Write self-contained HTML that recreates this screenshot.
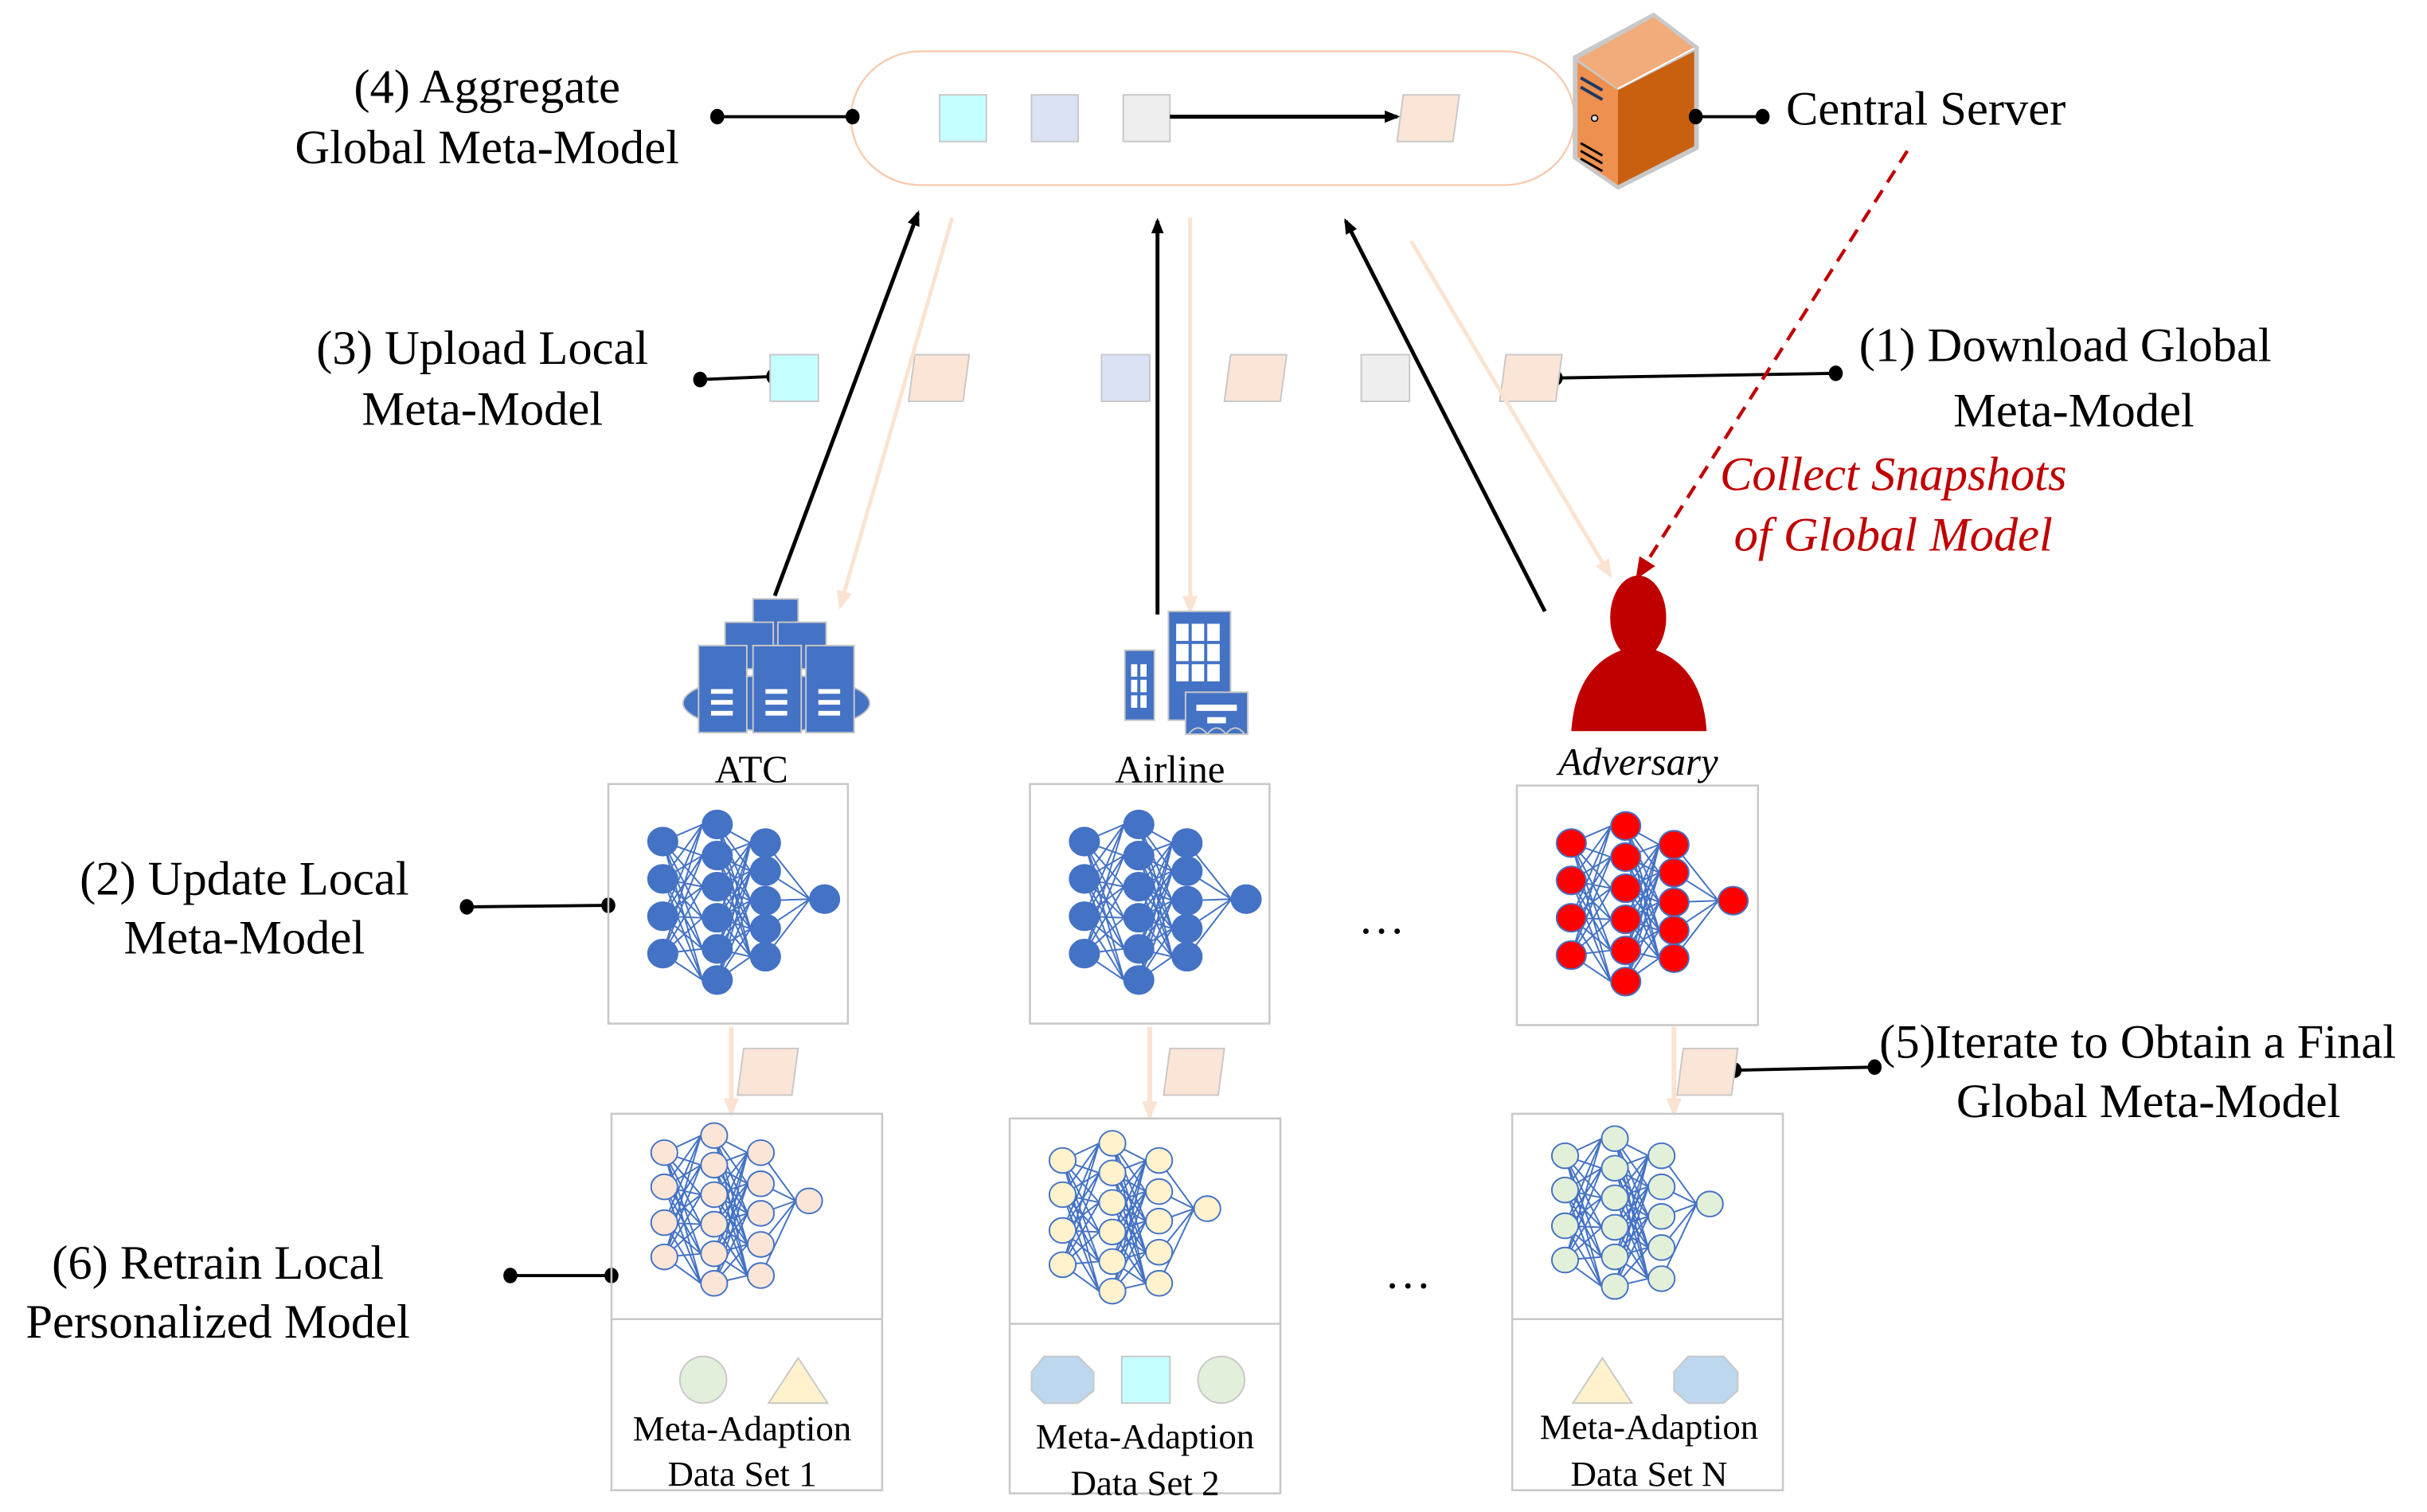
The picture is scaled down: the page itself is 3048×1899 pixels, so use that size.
<!DOCTYPE html>
<html><head><meta charset="utf-8"><style>
html,body{margin:0;padding:0;background:#fff}
svg{display:block}
</style></head><body>
<svg id="s" width="3048" height="1899" viewBox="0 0 1560 972" xmlns="http://www.w3.org/2000/svg" style="font-family:'Liberation Serif',serif">
<defs>
<marker id="ab" markerWidth="10" markerHeight="10" refX="8" refY="5" orient="auto" markerUnits="userSpaceOnUse" viewBox="0 0 10 10"><path d="M0,1 L10,5 L0,9 z" fill="#000"/></marker>
<marker id="ap" markerWidth="12" markerHeight="12" refX="10" refY="6" orient="auto" markerUnits="userSpaceOnUse" viewBox="0 0 12 12"><path d="M0,1 L12,6 L0,11 z" fill="#fbe3d2"/></marker>
<marker id="ar" markerWidth="14" markerHeight="14" refX="11" refY="7" orient="auto" markerUnits="userSpaceOnUse" viewBox="0 0 14 14"><path d="M0,1 L14,7 L0,13 z" fill="#c00000"/></marker>
</defs>
<g id="g">
<rect x="547" y="33" width="465" height="86" rx="45" fill="#fff" stroke="#f8cbad" stroke-width="1.2"/>
<rect x="604" y="61" width="30" height="30" fill="#c6ffff" stroke="#c8c8c8"/>
<rect x="663" y="61" width="30" height="30" fill="#dae2f4" stroke="#c8c8c8"/>
<rect x="722" y="61" width="30" height="30" fill="#eeeeee" stroke="#c8c8c8"/>
<line x1="752" y1="75" x2="898" y2="75" stroke="#000" stroke-width="2.5" marker-end="url(#ab)"/>
<polygon points="902,61 938,61 934,91 898,91" fill="#fbe5d6" stroke="#c8c8c8"/>
</g>
</svg>
<script>
(function(){
var s=document.getElementById('g'),NS='http://www.w3.org/2000/svg';
var h='';
function E(t){h+=t;}
E('<polygon points="1011,36 1063,8 1092,30 1092,96 1040,122 1011,102" fill="#c8c8c8"/>');
E('<polygon points="1014,38 1063,11 1089,31 1040,57" fill="#f2ab7a"/>');
E('<polygon points="1014,40 1040,58 1040,119 1014,101" fill="#ee904f"/>');
E('<polygon points="1040,58 1089,33 1089,94 1040,119" fill="#c9600f"/>');
E('<line x1="1040" y1="57" x2="1089" y2="31" stroke="#fff" stroke-width="1"/>');
E('<path d="M1016,50 L1030,58 M1016,56 L1030,64" stroke="#1f3864" stroke-width="2"/>');
E('<circle cx="1025" cy="76" r="2" fill="#ddd" stroke="#000" stroke-width=".8"/>');
E('<path d="M1016,92 L1030,100 M1016,97 L1030,105 M1016,102 L1030,110" stroke="#000" stroke-width="1.5"/>');
function dl(x1,y1,x2,y2){E('<line x1="'+x1+'" y1="'+y1+'" x2="'+x2+'" y2="'+y2+'" stroke="#000" stroke-width="2"/><ellipse cx="'+x1+'" cy="'+y1+'" rx="4.5" ry="5" fill="#000"/><ellipse cx="'+x2+'" cy="'+y2+'" rx="4.5" ry="5" fill="#000"/>');}
dl(461,75,548,75);dl(1090,75,1133,75);dl(450,244,497,242);dl(1000,243,1180,240);
dl(300,583,391,582);dl(1115,688,1205,686);dl(328,820,393,820);
function T(x,y,t,sz,a,extra){E('<text x="'+x+'" y="'+y+'" style="font-family:\'Liberation Serif\',serif" font-size="'+sz+'" text-anchor="'+(a||'middle')+'" '+(extra||'fill="#000"')+'>'+t+'</text>');}
T(313,66,'(4) Aggregate',31);T(313,105,'Global Meta-Model',31);
T(1148,80,'Central Server',31,'start');
T(310,234,'(3) Upload Local',31);T(310,273,'Meta-Model',31);
T(1195,232,'(1) Download Global',31,'start');T(1333,274,'Meta-Model',31);
T(1217,315,'Collect Snapshots',31,'middle','font-style="italic" fill="#c00000"');
T(1217,354,'of Global Model',31,'middle','font-style="italic" fill="#c00000"');
T(157,575,'(2) Update Local',31);T(157,613,'Meta-Model',31);
T(1208,680,'(5)Iterate to Obtain a Final',31,'start');T(1381,718,'Global Meta-Model',31);
T(140,822,'(6) Retrain Local',31);T(140,860,'Personalized Model',31);
T(483,503,'ATC',25);T(752,503,'Airline',25);T(1053,498,'Adversary',25,'middle','font-style="italic" fill="#000"');
T(888,600,'…',30);T(905,828,'…',30);
E('<rect x="495" y="228" width="31" height="30" fill="#c6ffff" stroke="#c8c8c8"/>');
E('<rect x="708" y="228" width="31" height="30" fill="#dae2f4" stroke="#c8c8c8"/>');
E('<rect x="875" y="228" width="31" height="30" fill="#eeeeee" stroke="#c8c8c8"/>');
function para(x,y,w,hh){E('<polygon points="'+(x+4)+','+y+' '+(x+w)+','+y+' '+(x+w-4)+','+(y+hh)+' '+x+','+(y+hh)+'" fill="#fbe5d6" stroke="#c8c8c8"/>');}
para(584,228,39,30);para(787,228,40,30);para(964,228,40,30);
para(474,674,39,30);para(748,674,39,30);para(1078,674,39,30);
function ar(x1,y1,x2,y2,c,m,w){E('<line x1="'+x1+'" y1="'+y1+'" x2="'+x2+'" y2="'+y2+'" stroke="'+c+'" stroke-width="'+w+'" marker-end="url(#'+m+')"/>');}
ar(498,383,590,137,'#000','ab',2.5);ar(744,395,744,142,'#000','ab',2.5);ar(993,393,865,142,'#000','ab',2.5);
ar(612,140,540,390,'#fbe3d2','ap',2.5);ar(765,140,765,393,'#fbe3d2','ap',2.5);ar(907,155,1035,370,'#fbe3d2','ap',2.5);
ar(470,660,470,716,'#fbe3d2','ap',3);ar(739,660,739,718,'#fbe3d2','ap',3);ar(1076,660,1076,716,'#fbe3d2','ap',3);
E('<line x1="1226" y1="97" x2="1053" y2="370" stroke="#c00000" stroke-width="2.2" stroke-dasharray="9,6" marker-end="url(#ar)"/>');
E('<ellipse cx="499" cy="452" rx="60" ry="18" fill="#4472c4" stroke="#c8c8c8"/>');
function bl(x,y,w,hh){E('<rect x="'+x+'" y="'+y+'" width="'+w+'" height="'+hh+'" fill="#4472c4" stroke="#c8c8c8" stroke-width="1"/>');}
bl(484,385,29,30);bl(466,400,31,30);bl(500,400,31,30);
bl(449,415,31,56);bl(484,415,31,56);bl(518,415,31,56);
for(var i=0;i<3;i++){var cx=[464,499,533][i];for(var j=0;j<3;j++)E('<rect x="'+(cx-7)+'" y="'+(443+j*7)+'" width="14" height="3" fill="#fff"/>');}
bl(723,418,19,45);bl(751,393,40,70);bl(762,445,40,27);
for(var r=0;r<3;r++)for(var c=0;c<3;c++)E('<rect x="'+(756+c*10)+'" y="'+(401+r*13)+'" width="8" height="11" fill="#fff"/>');
for(var r=0;r<3;r++)for(var c=0;c<2;c++)E('<rect x="'+(727+c*6)+'" y="'+(427+r*10)+'" width="4" height="8" fill="#fff"/>');
E('<rect x="769" y="453" width="26" height="4" fill="#fff"/><rect x="776" y="461" width="12" height="4" fill="#fff"/>');
E('<path d="M764,472 q6,-8 12,0 q6,-8 12,0 q6,-8 12,0" stroke="#c8c8c8" fill="none" stroke-width="1"/>');
E('<ellipse cx="1053" cy="397" rx="18" ry="27" fill="#c00000"/>');
E('<path d="M1053,415 C1025,420 1012,440 1010,470 L1097,470 C1095,440 1082,420 1053,415 z" fill="#c00000"/>');
function bx(x,y,w,hh){E('<rect x="'+x+'" y="'+y+'" width="'+w+'" height="'+hh+'" fill="none" stroke="#c8c8c8" stroke-width="1.3"/>');}
bx(391,504,154,154);bx(662,504,154,154);bx(975,505,155,154);
bx(393,716,174,242);bx(649,719,174,241);bx(972,716,174,242);
E('<line x1="393" y1="848" x2="567" y2="848" stroke="#c8c8c8" stroke-width="1.3"/><line x1="649" y1="851" x2="823" y2="851" stroke="#c8c8c8" stroke-width="1.3"/><line x1="972" y1="848" x2="1146" y2="848" stroke="#c8c8c8" stroke-width="1.3"/>');
function net(x0,y0,r,fill,stroke,big){
 var L;
 if(big){L=[[35,[37,61,85,109]],[70,[26,46,66,86,106,126]],[101,[38,56,75,93,111]],[139,[74]]];}
 else{L=[[34,[25,47,70,92]],[66,[14,33,52,71,90,109]],[96,[25,45,64,84,104]],[127,[56]]];}
 var lines='';
 for(var a=0;a<3;a++)for(var i=0;i<L[a][1].length;i++)for(var j=0;j<L[a+1][1].length;j++)
  lines+='M'+(x0+L[a][0])+','+(y0+L[a][1][i])+'L'+(x0+L[a+1][0]-r)+','+(y0+L[a+1][1][j]);
 E('<path d="'+lines+'" stroke="#4472c4" stroke-width="1" fill="none"/>');
 for(var a=0;a<4;a++)for(var i=0;i<L[a][1].length;i++)E('<ellipse cx="'+(x0+L[a][0])+'" cy="'+(y0+L[a][1][i])+'" rx="'+r+'" ry="'+(r*0.95)+'" fill="'+fill+'" stroke="'+stroke+'" stroke-width="1"/>');
}
net(391,504,9.5,'#4472c4','#4472c4',true);
net(662,504,9.5,'#4472c4','#4472c4',true);
net(975,505,9.5,'#ff0000','#4472c4',true);
net(393,716,8.5,'#fbe5d6','#4472c4',false);
net(649,721,8.5,'#fff2cc','#4472c4',false);
net(972,718,8.5,'#e2f0d9','#4472c4',false);
E('<ellipse cx="452" cy="887" rx="15" ry="15" fill="#e2efda" stroke="#c8c8c8"/>');
E('<polygon points="494,902 513,873 532,902" fill="#fff2cc" stroke="#c8c8c8"/>');
E('<polygon points="671,872 693,872 703,882 703,894 693,902 671,902 663,894 663,882" fill="#bdd7ee" stroke="#c8c8c8"/>');
E('<rect x="721" y="872" width="31" height="30" fill="#c6ffff" stroke="#c8c8c8"/>');
E('<ellipse cx="785" cy="887" rx="15" ry="15" fill="#e2efda" stroke="#c8c8c8"/>');
E('<polygon points="1011,902 1030,873 1049,902" fill="#fff2cc" stroke="#c8c8c8"/>');
E('<polygon points="1085,872 1108,872 1117,882 1117,894 1108,902 1085,902 1076,894 1076,882" fill="#bdd7ee" stroke="#c8c8c8"/>');
T(477,926,'Meta-Adaption',23);T(477,955,'Data Set 1',23);
T(736,931,'Meta-Adaption',23);T(736,961,'Data Set 2',23);
T(1060,925,'Meta-Adaption',23);T(1060,955,'Data Set N',23);
var div=document.createElement('div');
div.innerHTML='<svg xmlns="'+NS+'">'+h+'</svg>';
var kids=div.firstChild.childNodes;
while(kids.length)s.appendChild(kids[0]);
})();
</script>
</body></html>
